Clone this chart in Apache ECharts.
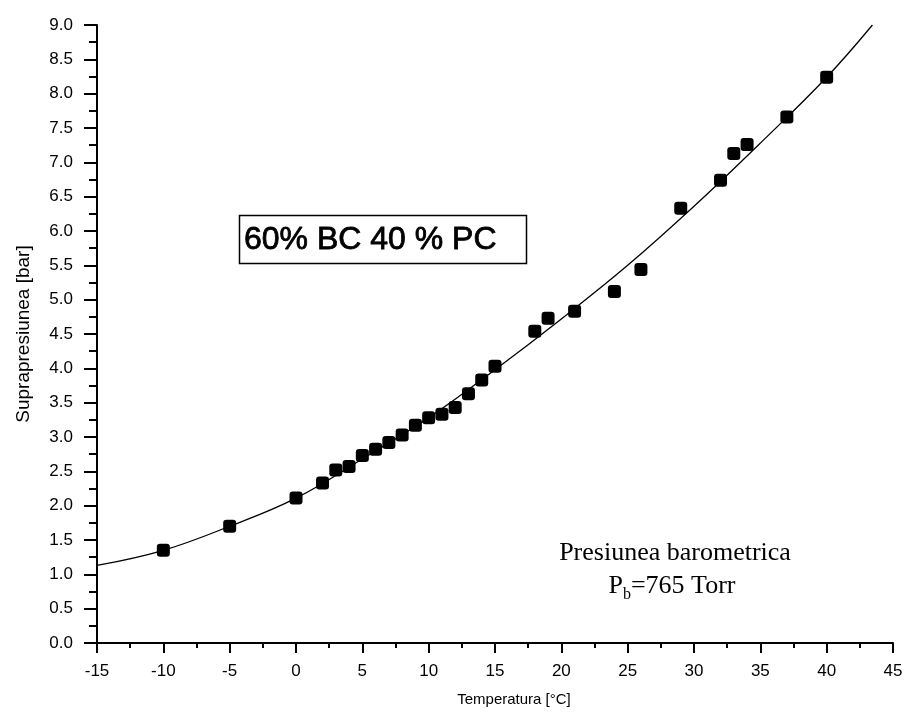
<!DOCTYPE html>
<html>
<head>
<meta charset="utf-8">
<script src="https://cdn.jsdelivr.net/npm/echarts@6/dist/echarts.min.js"></script>
<style>
  html, body { margin: 0; padding: 0; background: #fff; }
  #chart { width: 909px; height: 723px; }
</style>
</head>
<body>
<div id="chart"></div>
<script>
// Measured overpressure vs. temperature (60% BC / 40% PC mixture)
const temperatures = [-10, -5, 0, 2, 3, 4, 5, 6, 7, 8, 9, 10, 11, 12, 13, 14, 15,
                      18, 19, 21, 24, 26, 29, 32, 33, 34, 37, 40];
const pressures = [1.35, 1.70, 2.11, 2.33, 2.52, 2.57, 2.73, 2.82, 2.92, 3.03, 3.17, 3.28, 3.33, 3.43, 3.63, 3.83, 4.03,
                   4.54, 4.73, 4.83, 5.12, 5.44, 6.33, 6.74, 7.13, 7.26, 7.66, 8.24];

// Fitted curve, read at regular temperature steps
const fitTemperatures = [-15, -10, -5, 0, 5, 10, 15, 20, 25, 30, 35, 40, 43.45];
const fitPressures = [1.13, 1.35, 1.70, 2.11, 2.68, 3.28, 3.98, 4.72, 5.50, 6.36, 7.28, 8.24, 9.0];

// Axis ranges and labels
const xMin = -15, xMax = 45, xStep = 5;
const yMin = 0, yMax = 9, yStep = 0.5;
const xTitle = 'Temperatura [°C]';
const yTitle = 'Suprapresiunea [bar]';
const boxLabel = '60% BC 40 % PC';
const noteLine1 = 'Presiunea barometrica';
const noteLine2 = '=765 Torr';

const measured = temperatures.map((t, i) => [t, pressures[i]]);
const fitted = fitTemperatures.map((t, i) => [t, fitPressures[i]]);

const sans = '"Liberation Sans", Arial, sans-serif';
const serif = '"Liberation Serif", "Times New Roman", serif';

const chart = echarts.init(document.getElementById('chart'), null, { renderer: 'canvas' });

chart.setOption({
  animation: false,
  backgroundColor: '#fff',
  grid: { left: 97, right: 16, top: 25, bottom: 80, outerBoundsMode: 'none' },
  xAxis: {
    type: 'value',
    min: xMin, max: xMax, interval: xStep,
    name: xTitle,
    nameLocation: 'middle',
    nameGap: 49,
    nameTextStyle: { fontFamily: sans, fontSize: 15, color: '#000', padding: [0, 0, 0, 38] },
    axisLine: { show: true, onZero: false, lineStyle: { color: '#000', width: 2 } },
    axisTick: { show: true, length: 10, lineStyle: { color: '#000', width: 2 } },
    minorTick: { show: true, splitNumber: 2, length: 5, lineStyle: { color: '#000', width: 2 } },
    splitLine: { show: false },
    minorSplitLine: { show: false },
    axisLabel: { fontFamily: sans, fontSize: 17, color: '#000', margin: 20 }
  },
  yAxis: {
    type: 'value',
    min: yMin, max: yMax, interval: yStep,
    name: yTitle,
    nameLocation: 'middle',
    nameGap: 64,
    nameTextStyle: { fontFamily: sans, fontSize: 19, color: '#000' },
    axisLine: { show: true, onZero: false, lineStyle: { color: '#000', width: 2 } },
    axisTick: { show: true, length: 13, lineStyle: { color: '#000', width: 2 } },
    minorTick: { show: true, splitNumber: 2, length: 8, lineStyle: { color: '#000', width: 2 } },
    splitLine: { show: false },
    minorSplitLine: { show: false },
    axisLabel: {
      fontFamily: sans, fontSize: 17, color: '#000', margin: 24,
      formatter: v => v.toFixed(1)
    }
  },
  series: [
    {
      name: 'fit',
      type: 'line',
      data: fitted,
      smooth: 0.4,
      showSymbol: false,
      lineStyle: { color: '#000', width: 1.3 },
      z: 2
    },
    {
      name: 'measured',
      type: 'scatter',
      data: measured,
      symbol: 'roundRect',
      symbolSize: 13,
      itemStyle: { color: '#000', opacity: 1 },
      z: 3
    }
  ],
  graphic: [
    {
      type: 'rect',
      shape: { x: 239.5, y: 215.5, width: 287, height: 48 },
      style: { fill: '#fff', stroke: '#000', lineWidth: 1.5 },
      z: 10
    },
    {
      type: 'text',
      x: 244, y: 240,
      style: {
        text: boxLabel,
        font: '32px ' + sans,
        fill: '#000',
        stroke: '#000',
        lineWidth: 0.8,
        textVerticalAlign: 'middle'
      },
      z: 11
    },
    {
      type: 'text',
      x: 675, y: 553,
      style: {
        text: noteLine1,
        font: '26px ' + serif,
        fill: '#000',
        textAlign: 'center',
        textVerticalAlign: 'middle'
      },
      z: 11
    },
    {
      type: 'text',
      x: 672, y: 584,
      style: {
        text: '{p|P}{s|b}{p|' + noteLine2 + '}',
        textAlign: 'center',
        textVerticalAlign: 'middle',
        rich: {
          p: { font: '26px ' + serif, fill: '#000', verticalAlign: 'bottom', lineHeight: 30 },
          s: { font: '16px ' + serif, fill: '#000', verticalAlign: 'bottom', padding: [0, 0, -4, 0], lineHeight: 30 }
        }
      },
      z: 11
    }
  ]
});
</script>
</body>
</html>
